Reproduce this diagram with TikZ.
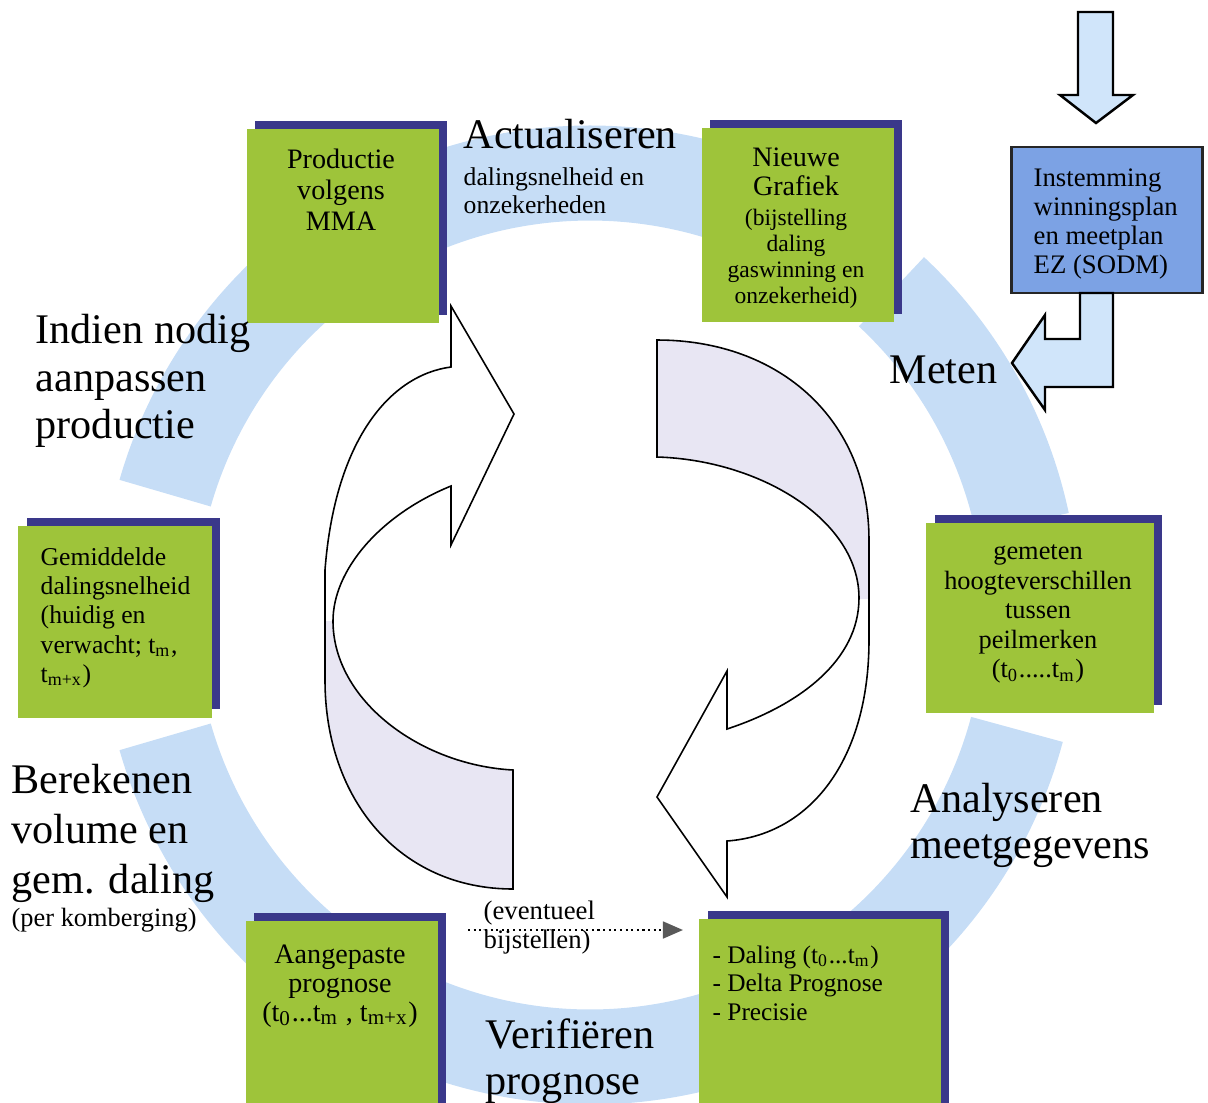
\documentclass[tikz,border=0pt]{standalone}
\usepackage{fontspec}
\setmainfont{Liberation Serif}
\usetikzlibrary{arrows.meta}
\usetikzlibrary{shadows}

\definecolor{boxgreen}{RGB}{158,196,58}
\definecolor{boxshade}{RGB}{58,56,138}
\definecolor{bandblue}{RGB}{198,221,246}
\definecolor{planblue}{RGB}{124,162,228}
\definecolor{pijlblue}{RGB}{208,229,250}
\definecolor{lavendel}{RGB}{232,230,243}

% the two ribbon arrows in the middle
\newcommand{\ringpijlL}{(513,770) -- (513,889) .. controls (400,889) and (325,800) .. (325,680) -- (325,570) .. controls (335,440) and (390,375) .. (451,367) -- (451,306) -- (514,414) -- (451,545) -- (451,486) .. controls (380,515) and (333,570) .. (333,621) .. controls (333,700) and (420,765) .. (513,770) -- cycle}
\newcommand{\ringpijlR}{(657,340) .. controls (780,340) and (869,420) .. (869,540) -- (869,640) .. controls (869,760) and (810,835) .. (727,841) -- (727,897) -- (657,797) -- (727,671) -- (727,729) .. controls (800,705) and (859,660) .. (859,598) .. controls (859,520) and (760,460) .. (657,457) -- cycle}

\begin{document}
\begin{tikzpicture}[x=0.01cm, y=-0.01cm,
	band/.style={draw=bandblue, line width=0.95cm},
	greenbox/.style={fill=boxgreen, minimum width=1.92cm, minimum height=1.94cm, inner sep=0pt,
		drop shadow={shadow xshift=2.4pt, shadow yshift=2.3pt, fill=boxshade, opacity=1}},
	planbox/.style={fill=planblue, draw=black!85, line width=0.8pt, minimum width=1.91cm, minimum height=1.46cm, inner sep=0pt},
	boxtext/.style={inner sep=0pt, align=center, anchor=north, font=\fontsize{8}{8.4}\selectfont},
	biglabel/.style={inner sep=0pt, align=left, anchor=north west, font=\fontsize{12}{13.5}\selectfont},
	ribbon/.style={draw=black, line width=0.45pt},
	blockarrow/.style={fill=pijlblue, draw=black, line width=0.7pt}]
	\useasboundingbox (0,0) rectangle (1208,1102);

	% light blue ring behind the boxes
	\foreach \a/\b in {-112/-68, -47/-12, 15/50, 68/112, 128/164, 196/232}
		\draw[band] (590,615) ++(\a:442) arc[start angle=\a, end angle=\b, radius=442];

	% ribbon arrows
	\fill[white] \ringpijlL;
	\begin{scope}
		\clip (300,621) rectangle (530,900);
		\fill[lavendel] \ringpijlL;
	\end{scope}
	\draw[ribbon] \ringpijlL;
	\fill[white] \ringpijlR;
	\begin{scope}
		\clip (640,330) rectangle (880,598);
		\fill[lavendel] \ringpijlR;
	\end{scope}
	\draw[ribbon] \ringpijlR;

	% boxes
	\node[greenbox] (prod) at (343,226) {};
	\node[greenbox] (nieuw) at (798,225) {};
	\node[greenbox, minimum width=1.93cm, minimum height=1.91cm] (gemid) at (115,622) {};
	\node[greenbox, minimum width=2.27cm, minimum height=1.9cm] (gemet) at (1040,618) {};
	\node[greenbox] (aangep) at (342,1018) {};
	\node[greenbox, minimum width=2.41cm] (daling) at (820,1016) {};
	\node[planbox] (instem) at (1107,220) {};

	% arrows into and out of the plan box
	\draw[blockarrow] (1078,12) -- (1078,95) -- (1060,95) -- (1096,123) -- (1133,95) -- (1113,95) -- (1113,12) -- cycle;
	\draw[blockarrow] (1080,293) -- (1080,339) -- (1045,339) -- (1045,315) -- (1012,363) -- (1045,410) -- (1045,387) -- (1113,387) -- (1113,293) -- cycle;

	% box texts
	\node[boxtext, font=\fontsize{8}{8.8}\selectfont] (prodtext) at (341,148) {Productie\\volgens\\MMA};
	\node[boxtext, font=\fontsize{8}{8.25}\selectfont] (nieuwtext) at (796,147) {Nieuwe\\Grafiek};
	\node[boxtext, font=\fontsize{6.7}{7.4}\selectfont] (nieuwsub) at (796,208) {(bijstelling\\daling\\gaswinning en\\onzekerheid)};
	\node[boxtext, anchor=north west, align=left, font=\fontsize{7.3}{8.3}\selectfont] (gemidtext) at (40,547) {Gemiddelde\\dalingsnelheid\\(huidig en\\verwacht; t\textsubscript{m},\\t\textsubscript{m+x})};
	\node[boxtext, font=\fontsize{7.5}{8.4}\selectfont] (gemettext) at (1038,544) {gemeten\\hoogteverschillen\\tussen\\peilmerken\\(t\textsubscript{0}.....t\textsubscript{m})};
	\node[boxtext, font=\fontsize{8}{8.25}\selectfont] (aangeptext) at (340,944) {Aangepaste\\prognose\\(t\textsubscript{0}...t\textsubscript{m} , t\textsubscript{m+x})};
	\node[boxtext, anchor=north west, align=left, font=\fontsize{7.2}{8.1}\selectfont] (dalingtext) at (712,945) {- Daling (t\textsubscript{0}...t\textsubscript{m})\\- Delta Prognose\\- Precisie};
	\node[boxtext, anchor=north west, align=left, font=\fontsize{7.6}{8.25}\selectfont] (instemtext) at (1033,168) {Instemming\\winningsplan\\en meetplan\\EZ (SODM)};

	% step labels
	\node[biglabel, anchor=base west] (actual) at (463,148) {Actualiseren};
	\node[boxtext, anchor=north west, align=left, font=\fontsize{7.3}{8}\selectfont] (actualsub) at (463,167) {dalingsnelheid en\\onzekerheden};
	\node[biglabel, anchor=base west] (meten) at (889,383) {Meten};
	\node[biglabel] (indien) at (35,314) {Indien nodig\\aanpassen\\productie};
	\node[biglabel, font=\fontsize{12}{13}\selectfont] (analyse) at (910,783) {Analyseren\\meetgegevens};
	\node[biglabel, font=\fontsize{12}{14.2}\selectfont] (bereken) at (11,764) {Berekenen\\volume en\\gem. daling};
	\node[boxtext, anchor=north west, align=left, font=\fontsize{7.5}{8}\selectfont] (komberging) at (11,907) {(per komberging)};
	\node[biglabel, font=\fontsize{12}{13.1}\selectfont] (verif) at (485,1018) {Verifiëren\\prognose};

	% optional adjustment
	\node[boxtext, anchor=north west, align=left, font=\fontsize{7.6}{8.25}\selectfont] (bijstel) at (483,900) {(eventueel\\bijstellen)};
	\coordinate (stipstart) at (468,930);
	\coordinate (stipeind) at (683,930);
	\draw[densely dotted, line width=0.6pt, -{Triangle[length=5.7pt, width=4.8pt, color=black!65]}] (stipstart) -- (stipeind);
\end{tikzpicture}
\end{document}
